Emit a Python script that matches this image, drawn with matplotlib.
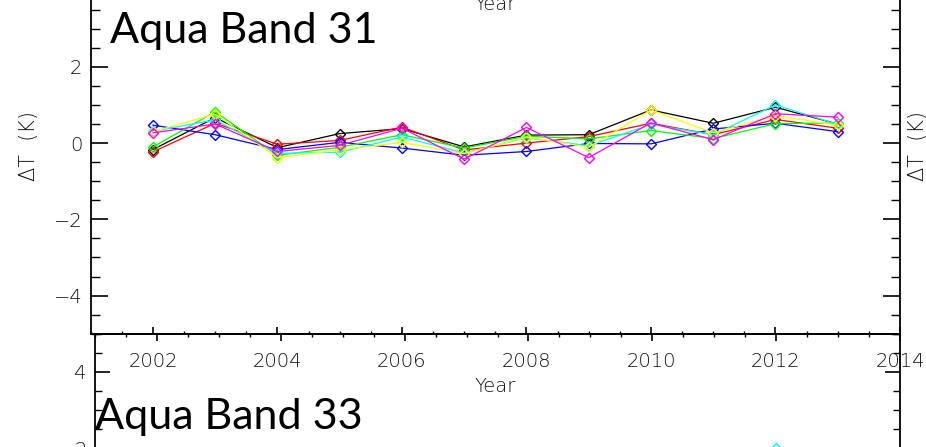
import matplotlib
matplotlib.use("Agg")
import matplotlib.pyplot as plt
from matplotlib.ticker import MultipleLocator

# ---- data: yearly temperature differences (K), Aqua band 31 ----
years = [2002, 2003, 2004, 2005, 2006, 2007, 2008, 2009, 2010, 2011, 2012, 2013]

band31_black   = [-0.17, 0.67, -0.12, 0.25, 0.38, -0.10, 0.21, 0.22, 0.87, 0.52, 0.94, 0.50]
band31_red     = [-0.23, 0.52, -0.03, 0.07, 0.42, -0.18, 0.00, 0.17, 0.52, 0.22, 0.62, 0.39]
band31_blue    = [0.47, 0.22, -0.17, 0.02, -0.13, -0.32, -0.22, -0.01, -0.02, 0.37, 0.52, 0.30]
band31_green   = [-0.10, 0.82, -0.32, -0.11, 0.22, -0.13, 0.18, 0.11, 0.33, 0.12, 0.51, 0.53]
band31_cyan    = [0.31, 0.61, -0.27, -0.24, 0.16, -0.26, 0.14, -0.07, 0.49, 0.22, 1.00, 0.49]
band31_yellow  = [0.30, 0.76, -0.38, -0.18, 0.02, -0.28, 0.16, -0.11, 0.87, 0.27, 0.72, 0.47]
band31_magenta = [0.27, 0.50, -0.22, -0.06, 0.39, -0.42, 0.41, -0.38, 0.53, 0.09, 0.77, 0.68]

band31_series = [
    (band31_black, "black"),
    (band31_red, "red"),
    (band31_blue, "blue"),
    (band31_green, "#00ff00"),
    (band31_cyan, "cyan"),
    (band31_yellow, "yellow"),
    (band31_magenta, "magenta"),
]

# Aqua band 33 (only its top region is shown)
band33_years = [2012]
band33_cyan = [2.0]

W, H = 926, 447
fig = plt.figure(figsize=(W / 100, H / 100), dpi=100)

TEXT_COLOR = "#111111"
THIN = dict(family="DejaVu Sans", weight="light", color=TEXT_COLOR)


def px_axes(left, right, top, bottom):
    """Axes rectangle from pixel edges (origin at top-left)."""
    return [left / W, 1 - bottom / H, (right - left) / W, (bottom - top) / H]


def style_axes(ax, major_len_y, minor_len_y, major_len_x, minor_len_x, xlabels=True):
    ax.set_xlim(2001, 2014)
    ax.set_ylim(-5, 5)
    ax.xaxis.set_major_locator(MultipleLocator(2))
    ax.xaxis.set_minor_locator(MultipleLocator(0.5))
    ax.yaxis.set_major_locator(MultipleLocator(2))
    ax.yaxis.set_minor_locator(MultipleLocator(0.5))
    for s in ax.spines.values():
        s.set_linewidth(1.3)
        s.set_color("black")
    ax.tick_params(axis="y", which="major", direction="in", left=True, right=True,
                   length=major_len_y, width=1.2, pad=6, labelsize=14)
    ax.tick_params(axis="y", which="minor", direction="in", left=True, right=True,
                   length=minor_len_y, width=1.0)
    ax.tick_params(axis="x", which="major", direction="in", bottom=True, top=True,
                   length=major_len_x, width=1.2, pad=13, labelsize=14,
                   labelbottom=xlabels)
    ax.tick_params(axis="x", which="minor", direction="in", bottom=True, top=True,
                   length=minor_len_x, width=1.0)
    for lab in ax.get_xticklabels() + ax.get_yticklabels():
        lab.set_fontfamily(THIN["family"])
        lab.set_fontweight(THIN["weight"])
        lab.set_color(THIN["color"])


# ---- lower panel: Aqua band 33 ----
ax33 = fig.add_axes(px_axes(95, 900, 333.7, 714.9))
ax33.set_facecolor("none")
style_axes(ax33, 11, 5, 5, 2.5, xlabels=False)
ax33.plot(band33_years, band33_cyan, color="cyan", marker="D", ms=5,
          mfc="none", mew=1.0, lw=0.9)
fig.text(95 / W, 1 - 428.5 / H, "Aqua Band 33", family="Lato", fontsize=31,
         color="black", ha="left", va="baseline")

# ---- upper panel: Aqua band 31 ----
ax31 = fig.add_axes(px_axes(90.7, 900, -47.5, 333.7))
ax31.set_facecolor("none")
style_axes(ax31, 12, 6.5, 5, 2.5)
for vals, col in band31_series:
    ax31.plot(years, vals, color=col, marker="D", ms=5, mfc="none",
              mew=1.0, lw=0.9)

fig.text(495 / W, 1 - 386 / H, "Year", fontsize=14, ha="center", va="center", **THIN)
fig.text(29 / W, 1 - 146 / H, "ΔT  (K)", fontsize=15, rotation=90,
         ha="center", va="center", **THIN)
fig.text(110 / W, 1 - 43.5 / H, "Aqua Band 31", family="Lato", fontsize=31,
         color="black", ha="left", va="baseline")

# neighbouring panels' axis labels at the edges
fig.text(495 / W, 1 - 10 / H, "Year", fontsize=14, ha="center", va="baseline", **THIN)
fig.text(918 / W, 1 - 146 / H, "ΔT  (K)", fontsize=15, rotation=90,
         ha="center", va="center", **THIN)

fig.savefig("out.png", dpi=100, facecolor="white")
